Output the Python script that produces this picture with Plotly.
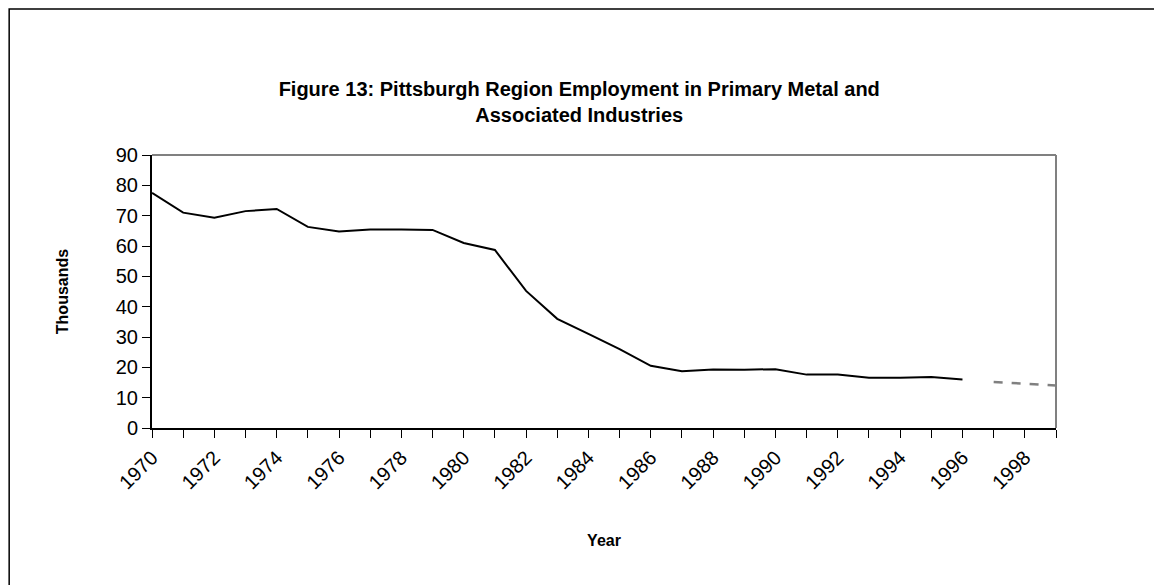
import plotly.graph_objects as go

years = list(range(1970, 1997))
employment = [77.5, 71.0, 69.3, 71.5, 72.2, 66.3, 64.8, 65.4, 65.4, 65.3, 61.0, 58.7, 45.2, 36.0, 31.0, 26.0, 20.5, 18.7, 19.3, 19.2, 19.4, 17.6, 17.6, 16.6, 16.6, 16.8, 16.0]
proj_years = [1997, 1998, 1999]
projection = [15.2, 14.6, 14.0]
all_years = list(range(1970, 2000))

fig = go.Figure()
fig.add_trace(go.Scatter(x=years, y=employment, mode="lines",
                         line=dict(color="black", width=2), showlegend=False))
fig.add_trace(go.Scatter(x=proj_years, y=projection, mode="lines",
                         line=dict(color="#808080", width=2.5, dash="dash"), showlegend=False))

fig.update_layout(
    width=1154, height=577, paper_bgcolor="white", plot_bgcolor="white",
    margin=dict(l=144, r=106, t=147, b=157, autoexpand=False),
    font=dict(family="Liberation Sans, Arial", color="black", size=20),
    title=dict(text="<b>Figure 13: Pittsburgh Region Employment in Primary Metal and<br>Associated Industries</b>",
               x=0.495, xanchor="center", y=0.848, yanchor="middle", font=dict(size=20)),
    shapes=[dict(type="rect", xref="paper", yref="paper", x0=-0.158, x1=1.2, y0=-0.65, y1=1.535,
                 line=dict(color="black", width=1.5)),
            dict(type="line", xref="paper", yref="paper", x0=0, x1=1, y0=1, y1=1, line=dict(color="#808080", width=2)),
            dict(type="line", xref="paper", yref="paper", x0=1, x1=1, y0=0, y1=1, line=dict(color="#808080", width=2))],
)
fig.update_xaxes(range=[1970, 1999], tickmode="array", tickvals=all_years,
                 ticktext=[str(y) if y % 2 == 0 else "" for y in all_years],
                 tickangle=-45, ticks="outside", ticklen=8, tickcolor="black",
                 showline=True, linecolor="black", linewidth=2, showgrid=False,
                 title=dict(text="<b>Year</b>", font=dict(size=16), standoff=42), zeroline=False)
fig.update_yaxes(range=[0, 90], dtick=10, ticks="outside", ticklen=8, tickcolor="black",
                 showline=True, linecolor="black", linewidth=2, showgrid=False, zeroline=False,
                 title=dict(text="<b>Thousands</b>", font=dict(size=16), standoff=43))
fig.write_html("out.html")
